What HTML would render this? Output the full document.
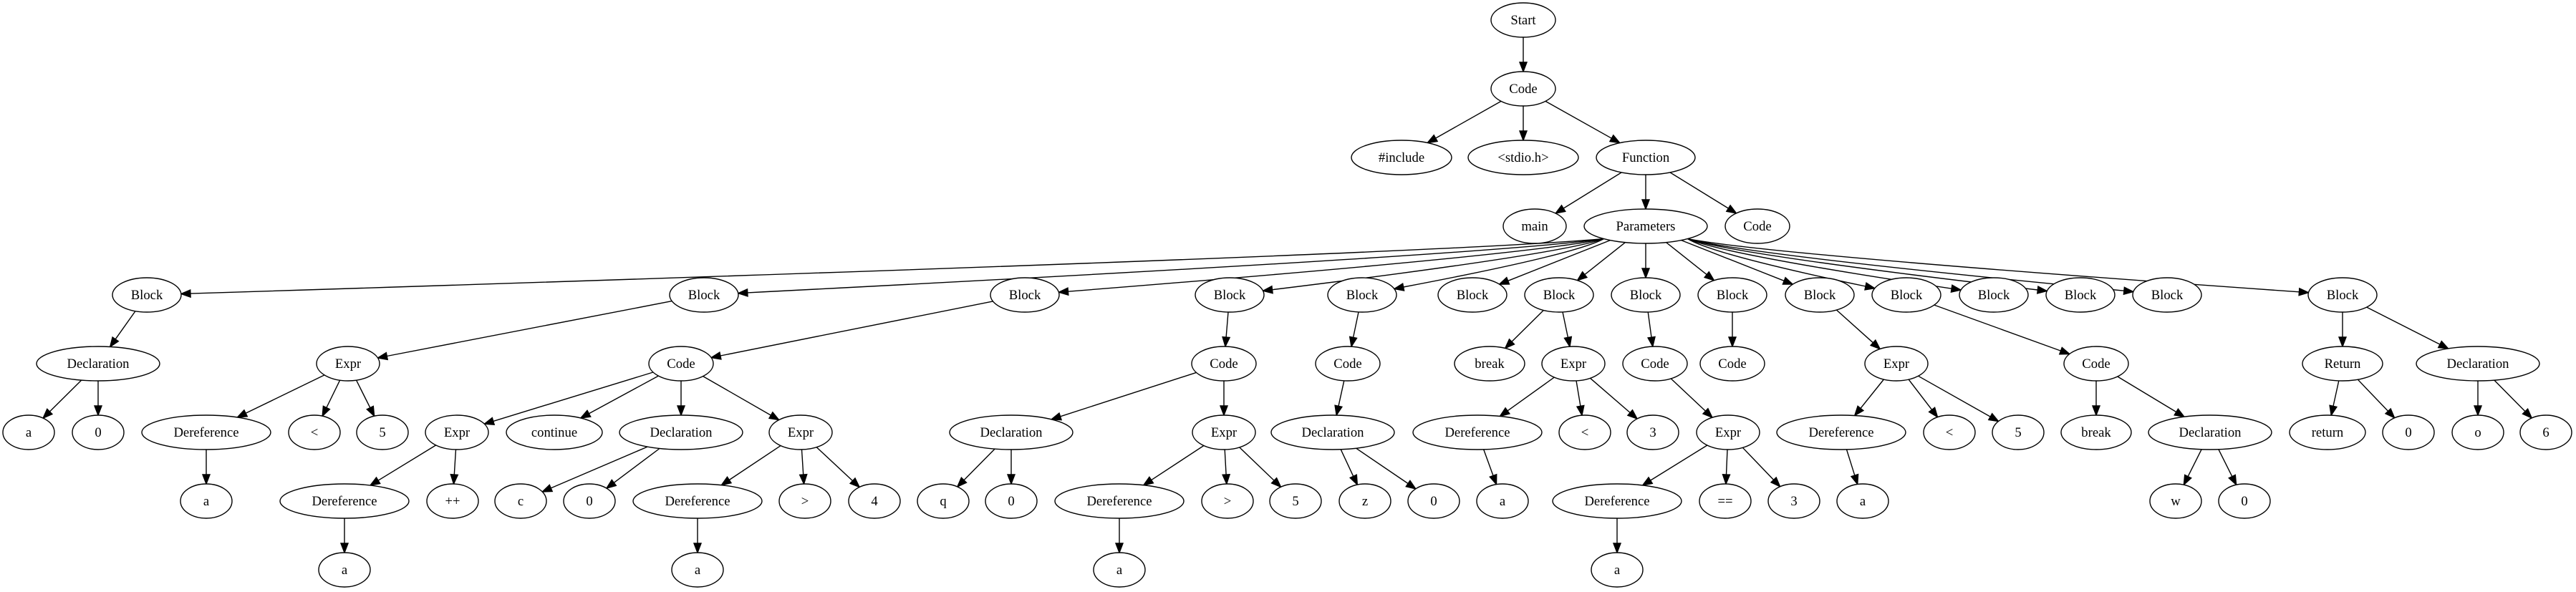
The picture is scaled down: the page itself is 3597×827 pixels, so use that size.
<!DOCTYPE html>
<html><head><meta charset="utf-8"><style>
html,body{margin:0;padding:0;background:#fff;}
svg{display:block;}
text{font-family:"Liberation Serif",serif;font-size:18.67px;fill:#000;}
</style></head><body>
<svg id="s" width="3597" height="827" viewBox="0 0 3597 827" xmlns="http://www.w3.org/2000/svg"></svg>
<script>
var N={},E=[];
function n(id,l,x,r,rx){N[id]={l:l,x:x,y:28+96*r,rx:rx||36};}
function e(a,b){E.push([a,b]);}
n('start','Start',2127,0,45);
n('code0','Code',2127,1,45);e('start','code0');
n('inc','#include',1957,2,70);n('std','<stdio.h>',2127,2,77);n('fn','Function',2298,2,69);
e('code0','inc');e('code0','std');e('code0','fn');
n('main','main',2143,3,44);n('par','Parameters',2298,3,86);n('fcode','Code',2454,3,45);
e('fn','main');e('fn','par');e('fn','fcode');
var bx=[205,983,1431,1717,1902,2056,2177,2298,2419,2541,2662,2784,2905,3026,3271];
bx.forEach(function(x,i){n('b'+i,'Block',x,4,48);e('par','b'+i);});
n('d0','Declaration',137,5,86);e('b0','d0');
n('d0a','a',40,6);n('d0z','0',137,6);e('d0','d0a');e('d0','d0z');
n('x1','Expr',486,5,44);e('b1','x1');
n('x1d','Dereference',288,6,90);n('x1l','<',439,6);n('x1f','5',534,6);
e('x1','x1d');e('x1','x1l');e('x1','x1f');
n('x1da','a',288,7);e('x1d','x1da');
n('c2','Code',951,5,45);e('b2','c2');
n('c2x','Expr',638,6,44);n('c2c','continue',774,6,67);n('c2d','Declaration',951,6,86);n('c2y','Expr',1118,6,44);
e('c2','c2x');e('c2','c2c');e('c2','c2d');e('c2','c2y');
n('c2xd','Dereference',481,7,90);n('c2xp','++',632,7);e('c2x','c2xd');e('c2x','c2xp');
n('c2xda','a',481,8);e('c2xd','c2xda');
n('c2dc','c',727,7);n('c2d0','0',823,7);e('c2d','c2dc');e('c2d','c2d0');
n('c2yd','Dereference',974,7,90);n('c2yg','>',1124,7);n('c2y4','4',1221,7);
e('c2y','c2yd');e('c2y','c2yg');e('c2y','c2y4');
n('c2yda','a',974,8);e('c2yd','c2yda');
n('c3','Code',1709,5,45);e('b3','c3');
n('c3d','Declaration',1412,6,86);n('c3x','Expr',1709,6,44);e('c3','c3d');e('c3','c3x');
n('c3dq','q',1317,7);n('c3d0','0',1412,7);e('c3d','c3dq');e('c3d','c3d0');
n('c3xd','Dereference',1563,7,90);n('c3xg','>',1714,7);n('c3x5','5',1809,7);
e('c3x','c3xd');e('c3x','c3xg');e('c3x','c3x5');
n('c3xda','a',1563,8);e('c3xd','c3xda');
n('c4','Code',1882,5,45);e('b4','c4');
n('c4d','Declaration',1861,6,86);e('c4','c4d');
n('c4dz','z',1906,7);n('c4d0','0',2002,7);e('c4d','c4dz');e('c4d','c4d0');
n('b6br','break',2080,5,49);n('b6x','Expr',2197,5,44);e('b6','b6br');e('b6','b6x');
n('b6xd','Dereference',2063,6,90);n('b6xl','<',2213,6);n('b6x3','3',2308,6);
e('b6x','b6xd');e('b6x','b6xl');e('b6x','b6x3');
n('b6xda','a',2098,7);e('b6xd','b6xda');
n('c7','Code',2311,5,45);e('b7','c7');
n('c7x','Expr',2413,6,44);e('c7','c7x');
n('c7xd','Dereference',2258,7,90);n('c7xe','==',2409,7);n('c7x3','3',2505,7);
e('c7x','c7xd');e('c7x','c7xe');e('c7x','c7x3');
n('c7xda','a',2258,8);e('c7xd','c7xda');
n('c8','Code',2419,5,45);e('b8','c8');
n('x9','Expr',2648,5,44);e('b9','x9');
n('x9d','Dereference',2571,6,90);n('x9l','<',2722,6);n('x95','5',2818,6);
e('x9','x9d');e('x9','x9l');e('x9','x95');
n('x9da','a',2601,7);e('x9d','x9da');
n('c10','Code',2927,5,45);e('b10','c10');
n('c10b','break',2927,6,49);n('c10d','Declaration',3086,6,86);e('c10','c10b');e('c10','c10d');
n('c10dw','w',3038,7);n('c10d0','0',3134,7);e('c10d','c10dw');e('c10d','c10d0');
n('r14','Return',3271,5,56);n('d14','Declaration',3460,5,86);e('b14','r14');e('b14','d14');
n('r14r','return',3250,6,53);n('r140','0',3363,6);e('r14','r14r');e('r14','r140');
n('d14o','o',3460,6);n('d146','6',3555,6);e('d14','d14o');e('d14','d146');

var ry=24,h='';
function clip(nd,dx,dy){var t=1/Math.sqrt(dx*dx/(nd.rx*nd.rx)+dy*dy/(ry*ry));return [nd.x+dx*t,nd.y+dy*t];}
E.forEach(function(p){
 var a=N[p[0]],b=N[p[1]];var dx=b.x-a.x,dy=b.y-a.y;
 var s,c=null;
 if(p[0]=='par'){var dy2=Math.max(dy,Math.abs(dx)*0.3);s=clip(a,dx,dy2);
   if(Math.abs(dx)>300){c=[s[0]+(b.x-s[0])*0.12,s[1]+22];}}
 else s=clip(a,dx,dy);
 var from=c||s;
 var t=clip(b,from[0]-b.x,from[1]-b.y);
 var L=Math.hypot(t[0]-from[0],t[1]-from[1]);var ux=(t[0]-from[0])/L,uy=(t[1]-from[1])/L;
 var al=13,aw=5;
 var bxp=t[0]-ux*al,byp=t[1]-uy*al;
 if(c) h+='<path d="M'+s[0].toFixed(1)+','+s[1].toFixed(1)+' Q'+c[0].toFixed(1)+','+c[1].toFixed(1)+' '+bxp.toFixed(1)+','+byp.toFixed(1)+'" fill="none" stroke="#000" stroke-width="1.4"/>';
 else h+='<line x1="'+s[0].toFixed(1)+'" y1="'+s[1].toFixed(1)+'" x2="'+bxp.toFixed(1)+'" y2="'+byp.toFixed(1)+'" stroke="#000" stroke-width="1.4"/>';
 h+='<polygon points="'+t[0].toFixed(1)+','+t[1].toFixed(1)+' '+(bxp-uy*aw).toFixed(1)+','+(byp+ux*aw).toFixed(1)+' '+(bxp+uy*aw).toFixed(1)+','+(byp-ux*aw).toFixed(1)+'" fill="#000" stroke="#000" stroke-width="1.4"/>';
});
for(var k in N){var d=N[k];
 h+='<ellipse cx="'+d.x+'" cy="'+d.y+'" rx="'+d.rx+'" ry="'+ry+'" fill="#fff" stroke="#000" stroke-width="1.4"/>';
 var lab=d.l.replace(/&/g,'&amp;').replace(/</g,'&lt;').replace(/>/g,'&gt;');
 h+='<text x="'+d.x+'" y="'+(d.y+6)+'" text-anchor="middle">'+lab+'</text>';
}
document.getElementById('s').innerHTML=h;
</script>
</body></html>
